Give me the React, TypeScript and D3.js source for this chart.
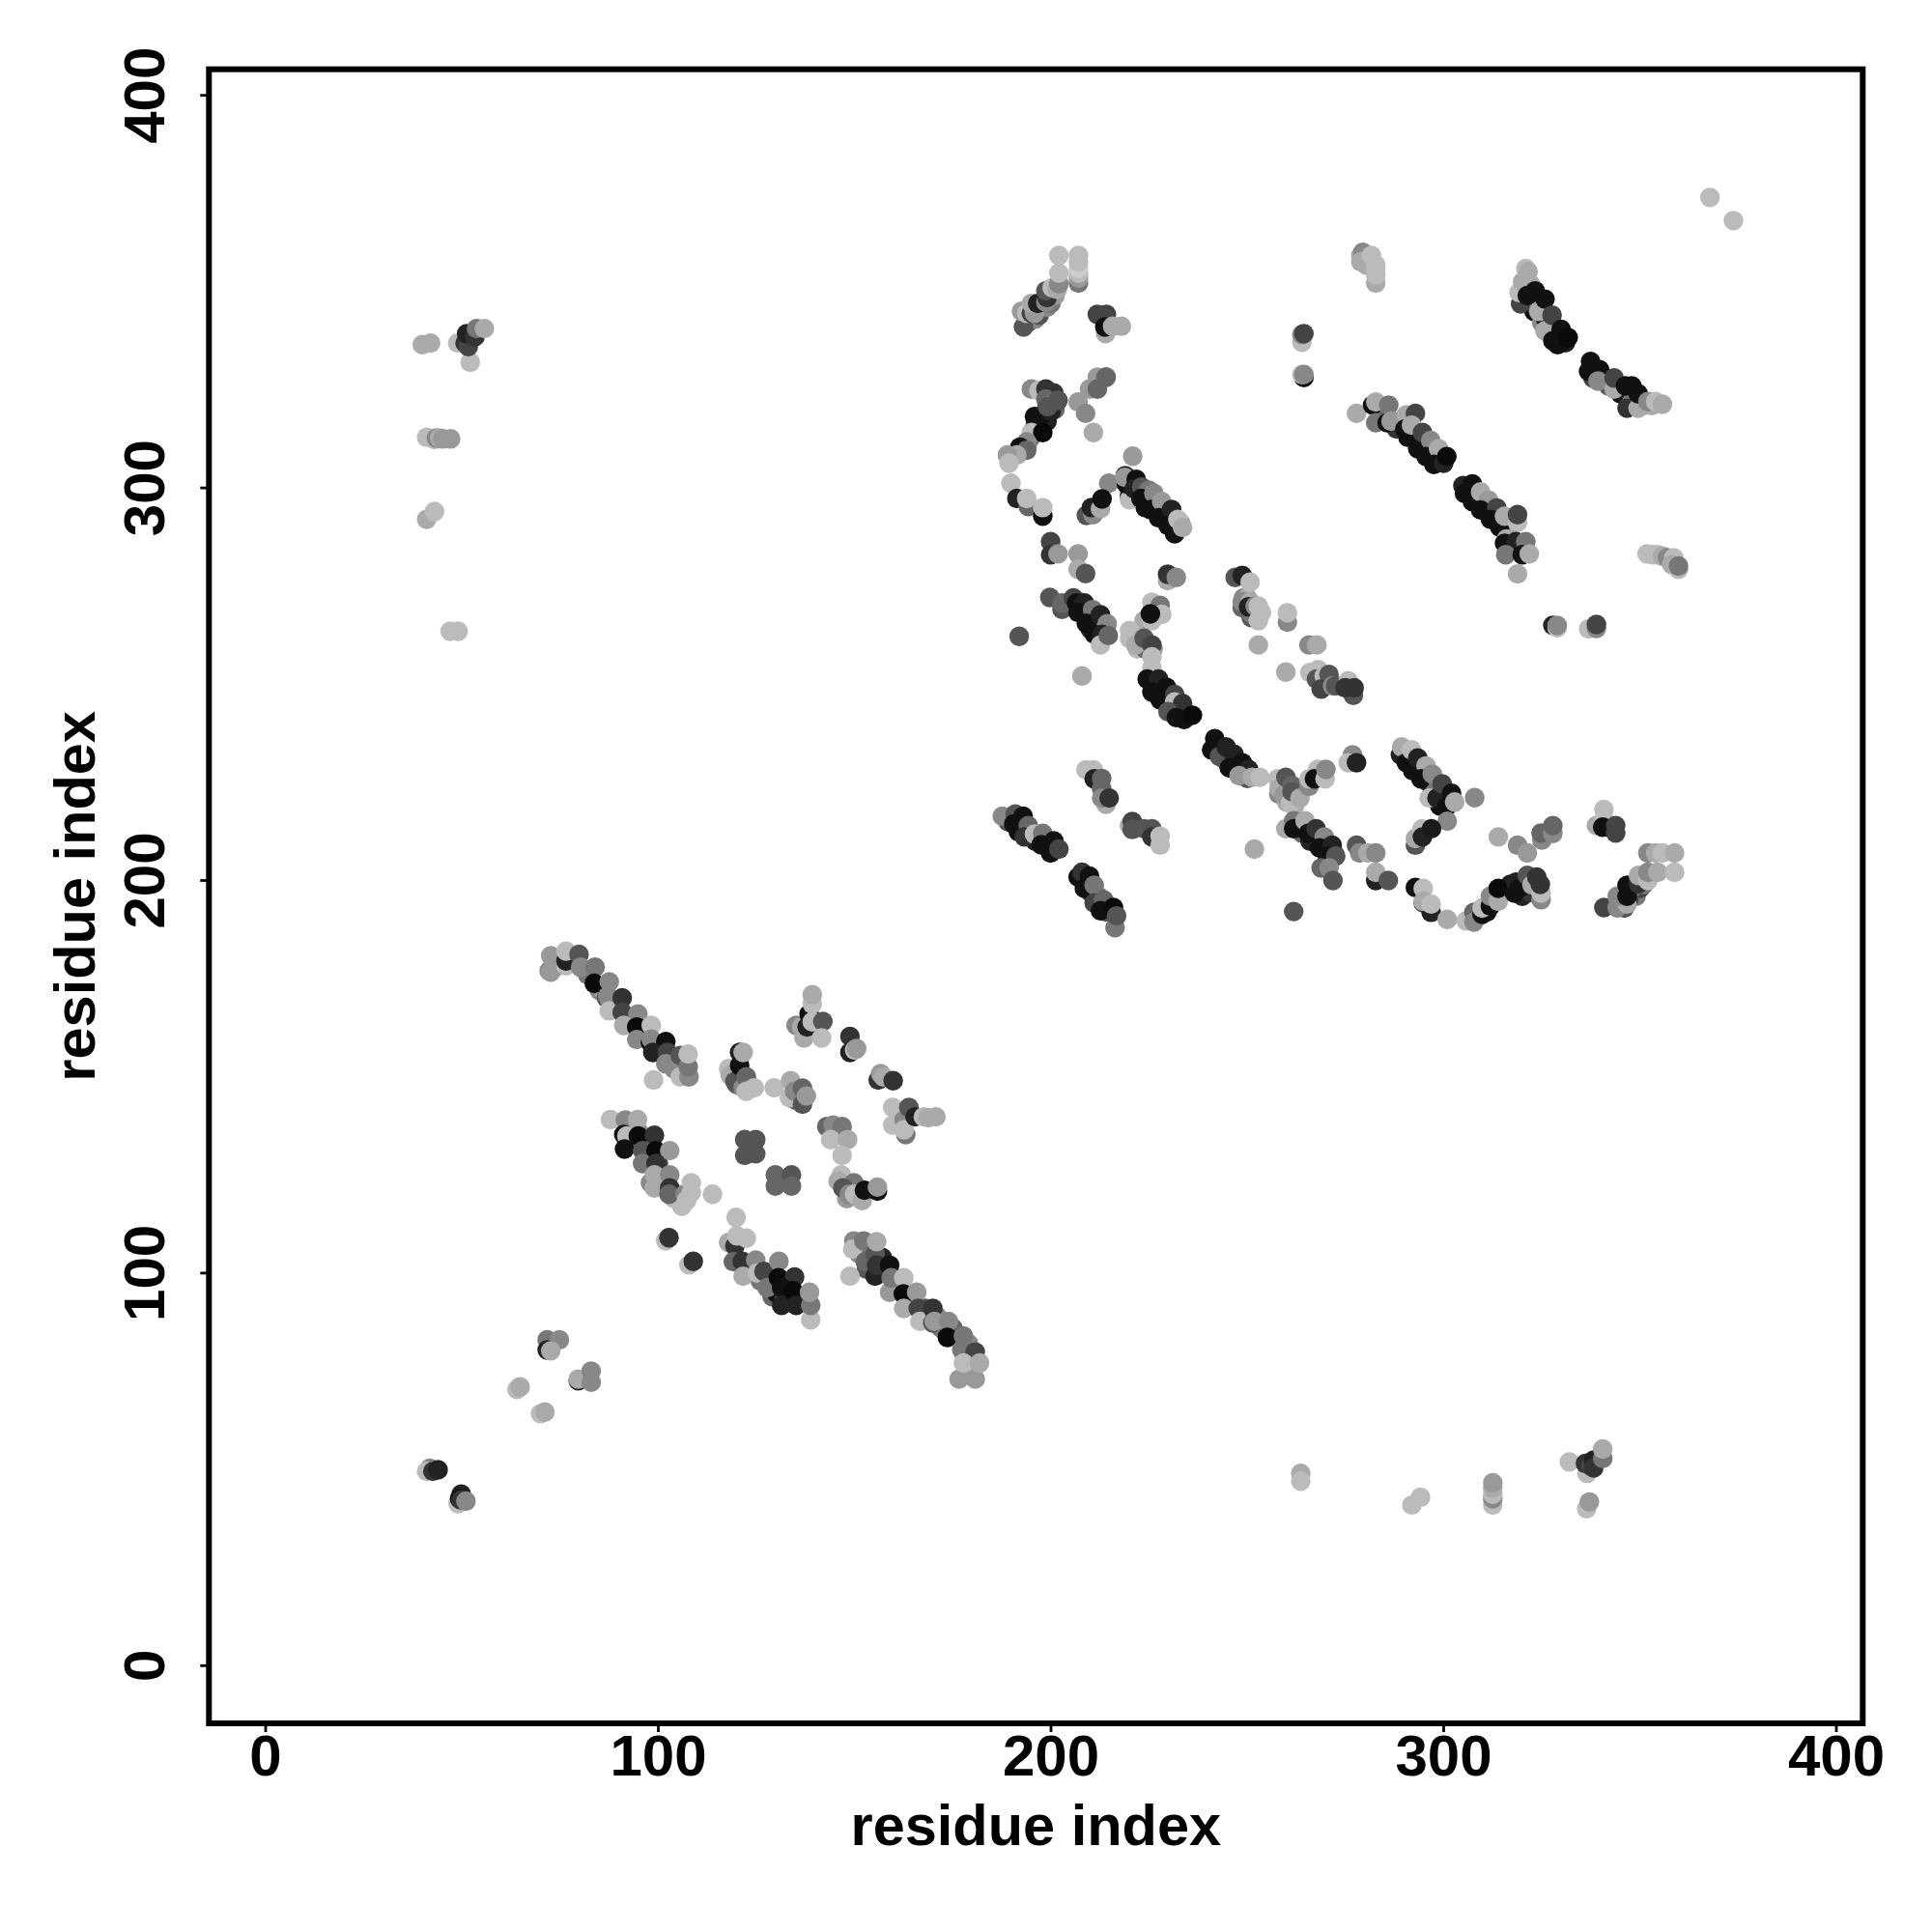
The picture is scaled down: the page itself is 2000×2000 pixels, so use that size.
import React from "react";
import * as d3 from "d3";

// [residue x, residue y, grey level]
type P = [number, number, number];

const xTicks = [0, 100, 200, 300, 400];
const yTicks = [0, 100, 200, 300, 400];
const axisLabel = "residue index";

const underLeft: P[] = [
  [74,178,170],[78,180,119],[82,176,119],[85,172,136],[86,172,153],[89,168,136],[92,165,119],[93,164,153],[96,161,85],[97,161,136],[100,157,68],[101,156,136],[104,152,136],[104,154,102],[106,153,136],
  [93,133,119],[95,133,136],[95,136,136],[97,129,102],[100,128,68],[98,123,136],[101,123,102],[100,124,187],[104,119,187],[105,120,170],[106,117,187],
  [122,101,136],[124,100,102],[126,98,119],[128,98,68],[129,94,102],[130,95,17],[132,93,85],[133,97,17],[136,93,68],[137,93,136],
  [151,105,136],[153,101,85],[154,106,119],[157,100,68],[157,104,34],[160,96,136],[161,96,153],[164,93,102],[168,89,119],[168,91,85],[171,89,136],[172,86,119],[175,86,102],[179,82,136],[179,75,153],[178,79,119],
  [119,150,153],[120,148,102],[123,148,119],[135,144,102],[144,136,119],[145,136,153],[147,122,102],[148,119,153],[150,122,51],
];
const underCentre: P[] = [
  [194,342,102],[196,343,136],[197,344,85],[199,346,136],[200,347,119],[201,349,153],[192,309,136],[194,311,153],[195,313,119],[196,316,34],[197,316,17],[199,317,34],[199,321,51],[201,320,102],
  [220,300,85],[222,299,119],[220,298,34],[224,297,51],[224,295,17],[226,296,102],[228,293,136],[228,294,85],[230,291,119],[232,290,119],[231,292,51],[233,291,153],
  [207,271,85],[208,268,85],[210,267,102],[210,264,51],[212,264,136],[213,264,170],[214,263,136],[221,262,170],[222,259,187],[224,259,102],[226,259,153],
  [226,249,85],[228,248,119],[229,247,51],[230,246,153],[232,243,119],[233,243,34],[235,242,17],[243,234,102],[244,231,34],[245,230,136],[247,230,17],[249,227,119],[250,226,85],[258,222,136],[260,220,170],[262,219,170],[263,222,119],
  [263,214,119],[264,212,102],[266,210,34],[268,211,102],[269,209,34],[270,208,119],[272,207,51],
  [189,215,85],[192,214,34],[193,213,85],[195,212,85],[196,210,34],[198,210,85],[199,209,51],[208,200,68],[209,199,102],[210,197,85],[211,196,17],[212,196,119],[213,193,51],[214,192,85],
];
const underRight: P[] = [
  [284,318,102],[288,315,51],[289,317,136],[291,314,68],[292,313,119],[293,312,68],[294,311,136],[295,310,85],[296,308,85],[297,308,119],[299,307,68],[249,272,136],[250,272,170],[251,267,85],[251,268,119],
  [306,299,51],[307,298,85],[308,297,68],[310,296,85],[310,297,136],[312,295,102],[313,293,68],[314,292,119],[316,291,34],[317,290,153],
  [322,352,170],[322,347,17],[323,347,51],[323,345,17],[324,346,102],[325,342,136],[326,343,17],[327,341,85],[328,339,17],[329,338,102],[329,336.5,17],[331,337,34],
  [338,331,85],[338,328,68],[340,328,34],[341,328,119],[342,326,85],[344,326,68],[345,324,17],[347,324,51],[347,322,34],[348,322,119],[350,322,68],[351,321,170],[353,321,170],
  [291,232,68],[291,230,102],[293,229,68],[294,228,85],[296,225,85],[297,224,34],[298,224,119],[300,222,68],[299,219,17],[301,221,51],
  [309,191,136],[310,193,68],[311,192,17],[312,194,102],[313,196,136],[317,199,34],[320,199,68],[320,196,34],[322,197,51],
  [345,195,102],[346,193,85],[348,197,136],[349,196,119],[350,198,68],[351,199,119],[347,195,51],[348,198,102],
];

const farLeft: P[] = [
  [39.9,336.5,170],[42,336.9,170],[48.9,336.9,187],[52.1,332,187],[50.8,336.9,51],[51.6,336,68],[51.2,339.3,34],[53.3,338.5,51],[53.7,340.6,119],[55.7,340.6,170],
  [41,312.9,187],[43,312.3,187],[43.5,312.7,136],[44.3,312.7,170],[45.1,312.5,153],[47.1,312.5,153],
  [41,292,170],[43,294,187],[47,263.5,187],[49,263.5,187],
];
const bottomLeft: P[] = [
  [41.8,50.3,136],[41,49.5,187],[42.6,49.5,51],[43.9,49.9,34],
  [49.8,43.7,34],[49,41.3,187],[49.4,42.5,17],[49.8,42.2,51],[51,41.9,136],
  [64,70.4,187],[64.8,71,170],[70,64.2,187],[71.1,64.6,170],
  [71.7,83,119],[74.8,83,136],[71.7,80.4,34],[72.6,80.2,170],
  [79.6,72.6,34],[79.6,73,170],[82.9,75,136],[82.9,72.2,136],
];
const bottomRight: P[] = [
  [263.6,49,170],[263.6,47,187],[291.9,40.9,187],[294.1,42.9,187],
  [312.5,40.9,187],[312.5,42.5,136],[312.5,43.7,187],[312.5,45.3,170],[312.5,46.6,153],
  [332,51.9,187],[336.5,49,187],[336.1,51.5,51],[337.5,50.9,68],[338.2,52.4,34],[338.2,50.4,51],[340.5,52.8,119],[340.5,55.2,170],
  [336.4,40,187],[337.1,41.7,153],
];
const chainUpperLeft: P[] = [
  [72.2,177,136],[72.6,176.7,153],[72.6,180.8,153],[76.5,178.3,187],[76.5,179.5,34],[76.5,182,187],[79.8,181.2,85],[80.2,177.9,136],[83.9,177.9,119],
  [83.7,173.8,10],[87.5,174.2,136],[86.8,170.1,85],[87.1,170.5,136],[87.5,166.8,187],[90.8,170.1,51],[90.8,166.4,68],[94.8,166,136],[91.2,163.1,170],[94.5,162.7,10],[98.2,163.1,187],
  [94.5,159.5,136],[98,158.7,17],[98.2,159.6,136],[101.9,159,17],[98.6,156.2,34],[102.3,156.2,68],[101.9,153.3,136],[105.6,155.4,85],[105.6,150,187],[107.8,150,136],[107.6,152.5,119],[107.6,155.8,187],[98.8,149.2,187],
];
const clusterTopMid: P[] = [
  [135.1,163.1,136],[136.5,162.7,170],[137.1,159.9,170],[138.4,166,17],[137.9,162.7,34],[139.2,164,187],[139.2,168.5,187],[139.2,170.9,170],[141.9,164.1,85],[141.6,159.9,187],
  [148.8,160.3,51],[148.8,156.2,34],[150,156.8,187],[150.5,157.2,153],[156,149.2,51],[156.6,150.8,153],[157.3,150,170],[159.8,149,51],
  [117.9,152.1,187],[118.3,150.4,170],[119.5,148.8,85],[120.7,156.2,34],[120.7,152.9,17],[121.6,156.2,170],[121.6,147.2,136],[122.4,150,102],[122.4,146.3,187],[124.4,147.2,187],
  [129.5,147.2,187],[133.7,149,170],[133.4,144.7,187],[134.7,146.3,136],[136.7,147.1,102],[136.7,143,85],[137.7,145.1,153],
  [142.9,137.3,102],[144.5,137.7,136],[146.8,137.3,119],[143.9,134,187],[148.2,134,170],[146.8,130,187],
  [159.7,142.2,187],[159.7,137.7,187],[162.6,139,136],[163,135.3,119],[162.6,136.5,187],[163.8,142.2,85],[165.4,139.8,34],[167.5,139.8,187],[168.7,139.6,170],[170.7,139.8,170],
];
const clusterMidLeft: P[] = [
  [87.8,139.1,187],[91.6,139,136],[94.7,139.1,170],[91.2,135.3,17],[92,134.9,187],[91.4,131.6,17],[94.9,134.9,10],[99,135.1,51],[96,131.2,85],[99.4,131.2,10],[102.9,131.2,153],
  [96,127.9,119],[99.4,127.9,51],[99,125,170],[102.9,125,136],[99,121.7,170],[102.9,121.7,51],[102.7,120.1,102],
  [106.8,120.1,136],[107.2,118.5,187],[108.4,120.5,187],[108.4,123,187],[113.8,120.1,187],
  [122,134,85],[124.8,134,85],[122,130,85],[124.8,130.4,85],
  [129.8,125,102],[133.9,125,85],[129.8,122.2,102],[133.9,122.2,102],
  [146.6,125,187],[145.8,123.4,170],[149.8,123,119],[147,121.7,85],[148.6,120.1,136],[150,120.1,187],[151.9,118.5,170],[152.5,121.1,17],[155.8,120.9,17],[155.8,121.9,153],
];
const chainLowerMid: P[] = [
  [102.7,109,187],[101.9,108.2,187],[102.7,109,51],[107.8,102.1,187],[108.9,103,51],
  [119.8,114.2,187],[117.9,107.8,170],[119.5,106.9,51],[120,109.5,187],[122.4,108.9,187],
  [119.1,102.9,102],[121.4,103,51],[124.8,103.3,136],[121.6,99.2,170],[125.2,100,187],[126.9,100.4,68],[130.7,103,136],[127.7,96.3,119],[130.6,98.8,10],[134.7,99,51],
  [131.4,96.3,17],[131.4,91.8,34],[134.3,95.5,10],[135.1,91.8,34],[138.8,88.1,187],[138.8,91.8,119],[138.5,95.1,153],
];
const chainLowerRight: P[] = [
  [148.8,99.2,187],[149.8,108.2,136],[149.5,106.1,187],[152.3,108.2,119],[152.7,102.9,102],[155.2,99.2,34],[155.2,104.9,85],[155.6,102,51],[155.6,108,170],[158.9,102,17],[158.9,95.1,153],[159.3,98.8,119],
  [162.5,98.8,187],[162.4,94.7,10],[165.8,95.1,153],[162.5,91,170],[166.2,91,68],[166.6,87.7,187],[169.9,91,51],[169.9,87.3,85],[170.3,87.7,153],[173.9,87.7,136],[173.6,83.6,10],[177.7,84,119],[177.3,80.4,119],[180.7,79.9,68],
  [176.6,73,153],[180.7,73,153],[177.7,77.1,187],[181.8,77.1,170],
];
const clusterTopLeft: P[] = [
  [193,341,85],[192.5,345,153],[193.8,344.5,187],[195,344.5,68],[195.8,344.5,153],[195,347,170],[196.6,347,34],[198.7,347.3,136],[199,348.5,51],[198.7,350.2,85],[200.3,351,187],[201.6,350.6,170],[202,352,136],[202,354.7,187],[202,359.2,187],
  [207,352.2,119],[207,353.5,153],[207,354.7,187],[207,356,204],[207,357.6,187],[207,359.2,187],
  [211.8,344.2,68],[214.1,344.2,68],[213.9,339.3,170],[213.7,341,17],[215.7,341.2,170],[217.9,341.2,170],
  [195,325.2,136],[196.9,324.8,187],[198.7,325.2,51],[200.7,324.2,51],[198.7,322.7,102],[199.9,321,136],[195.8,318.2,17],[197.9,318.6,17],[200,319.5,34],[199.1,320.7,85],[201.8,322.3,85],
  [195,314.1,187],[197.9,314.1,10],[193.8,311.7,136],[192.1,310.4,17],[193.8,309.6,102],[191.3,308.4,170],[188.9,308.4,153],[189.3,306.3,187],[189.8,301.2,187],
  [191.3,297.3,34],[194.2,295.3,102],[193.8,297.3,187],[197.9,292.8,17],[197.9,295,187],
  [214,328.2,102],[211.8,328.2,153],[214,328.2,102],[209.8,325.2,153],[211.8,325.2,102],[206.9,321.9,153],[208.8,319,136],[210.8,314.1,170],
];
const chainCentral: P[] = [
  [220.8,308.1,153],[214.7,301.2,136],[209,293,85],[210.7,293.2,136],[210.3,295,34],[212.6,294.7,170],[213,297.2,17],
  [220,297,187],[218.9,303.1,34],[219.2,301,17],[218.8,302.7,153],[221.7,302.2,17],[221.2,299.8,34],[223.1,300.2,85],[224.9,299.4,119],[222.9,297.3,17],[226.2,298.6,136],[225.3,294.5,17],[228.2,296.5,153],[227.4,292.4,17],[230.7,294.5,34],[229.8,290.4,17],[231.5,288.3,17],[232.3,292,187],[233.5,289.9,170],
  [199.9,286.3,68],[199.9,283,51],[201.8,283.2,153],[206.9,283.2,153],[206.9,279.3,170],[208.8,278.2,85],
  [229.7,276.4,170],[229.7,278,51],[231.9,277.2,136],
  [199.7,272.1,85],[202.8,269.1,85],[202.8,270.7,102],[205.7,272,68],[206.5,270.7,17],[208.5,270.7,34],[206.9,268.3,17],[210.6,269,119],[209,265.5,17],[212.6,267.7,34],[211,262.8,17],[214.3,265.4,136],[213,262.7,34],[212.6,260,187],[214.6,262.4,102],
  [191.9,262.2,85],[207.9,252.1,170],
  [225.7,270.9,187],[227.8,270.1,119],[223.7,266.2,170],[225.7,266.2,187],[228.2,267.8,187],[225.3,267.9,17],
  [220,263.7,187],[220,261.6,187],[221.6,260,170],[223.7,261.7,85],[225.7,260,68],[225.7,257,187],
];
const chainA: P[] = [
  [225.7,254.2,187],[224.5,251.3,17],[227.4,251.3,34],[229.4,249.2,17],[225.7,248,17],[227.8,246,17],[231.5,247.4,68],[231.5,245.5,187],[233.5,245.1,51],[229.8,243,85],[231.9,241.5,17],[233.9,241,17],[236,242.1,10],
  [241.7,236.1,17],[240.9,233.3,17],[242.9,231.6,85],[244.6,234,34],[246.6,232.2,34],[245.4,228.7,17],[248.7,230,17],[250.3,228.3,34],[247.9,226.7,153],[251.2,226.3,170],[253.2,226.3,187],
  [257.7,225.9,187],[258.1,223.4,170],[259.3,221.8,153],[261,219.7,187],[259.8,226.3,85],[261.4,224.2,102],[261.4,222.6,85],[263.4,221,170],
  [265.7,224,136],[265.7,225.9,187],[267.9,228.3,187],[267.1,225.9,17],[269.8,225.9,187],[270,228.3,136],
  [276.8,232,136],[275.7,230,187],[277.8,230,34],
];
const chainB: P[] = [
  [259.8,213.2,170],[261.8,215.2,119],[261.8,213.2,17],[264.7,215.2,170],[265.5,212,17],[267.5,213.2,51],[269.6,211.1,136],[268.4,208.3,17],[271.6,209,34],[270.4,206.2,17],[272.5,206.2,85],
  [268.8,203.2,102],[270.8,203.2,136],[271.8,200,85],[261.8,192.1,85],[251.8,208,170],
  [277.8,209,85],[278.6,207,136],[280.7,207,170],[282.7,207,136],[282.7,200,34],[282.7,202.1,170],[285.9,200,85],
];
const chainLowerLeft: P[] = [
  [187.6,216.4,136],[190.9,216.9,85],[192.9,216.4,17],[190.5,214.4,17],[191.7,212.4,17],[194.2,214,102],[193.2,211.1,51],[195.8,211.8,187],[197.9,212,119],[197.5,209.1,17],[200.7,210.1,17],[199.9,207,17],[202,208,68],
  [206.9,200.9,17],[207.9,202.1,51],[209.8,201.1,17],[208.5,198,17],[211,198.8,119],[211,194.3,68],[213.4,195.1,102],[212.6,192.3,17],[215.9,193.1,10],[216.3,188,119],[216.7,191,85],
  [208.9,228.2,187],[210.8,228.2,187],[211,225.9,34],[212.9,226,102],[212.9,223.4,102],[214,219.4,170],[212.9,221,136],[214.8,221,51],
  [220,214,170],[220.7,215,68],[220.7,213,85],[223.7,213.2,85],[225.7,213.2,85],[225.7,211.1,51],[227.8,209,187],[227.8,211.3,187],
];
const clusterUpperMid: P[] = [
  [264.4,328.1,17],[263.9,328.9,187],[264.4,328.9,136],[263.9,337.1,187],[263.9,339.1,136],[264.4,339.3,68],
  [278.9,359.2,170],[279.4,360,136],[278.9,357.6,170],[280.3,356.8,170],[282.7,352.2,170],[282.7,354.3,187],[282.7,355.5,187],[282.7,356.8,187],[281.6,359.2,187],
  [246.9,277.2,85],[248.7,277.7,34],[250.7,276,187],[248.7,269.5,102],[248.7,271,136],[250.7,271,170],[250.3,269.7,34],[252,269.9,136],[252.8,266.2,187],[252.8,269.9,187],[253.6,268.2,187],
  [260.2,265.8,136],[260.2,268.2,187],[252.8,260,170],[265.7,260,136],[267.7,260,170],[259.8,253.1,170],
  [265.9,253,187],[268,253.7,187],[267.6,251.3,85],[269.6,252.1,187],[270.8,252.5,85],[268.8,248.8,68],[271.7,249.6,136],[272.5,249.6,85],[275.7,250.9,187],[277,247.2,85],[274.9,249.1,51],[277.2,249.1,51],
  [277.8,319,170],[281.9,321.1,17],[282.7,321.9,170],[282.7,316.6,119],[285.6,316.6,17],[286,321.1,119],[286.6,317,153],
  [290.5,318.6,170],[292.8,319,68],[290.1,315,17],[290.9,312.9,17],[291.8,316,170],[293.4,310,17],[294.6,314.1,68],[296.7,312.1,136],[295.5,308,17],[298.7,310,170],[297.5,306,17],[300,306.3,34],[300.8,308,10],
];
const chainUpperRight: P[] = [
  [304.9,300.6,34],[307.3,301,17],[305.3,298.6,17],[307.3,296.5,17],[309.4,299,170],[311.4,296.9,153],[309.4,294.4,17],[313.5,294.9,68],[311.9,292,17],[314.3,290,17],[315.5,292.8,170],[318.8,291.2,187],[318.8,293.2,68],
  [316,287,170],[315.5,285.9,17],[318.4,286.3,34],[320.9,286.3,119],[315.8,283,119],[320,283,17],[321.8,283.2,170],[318.8,278.1,170],
  [319.6,346.9,68],[319.2,349.8,187],[320.1,352.5,170],[320.9,355.9,187],[321.5,355.1,170],[321.3,349,17],[323.3,350.2,17],[324.2,345,170],[325.8,348.1,17],[325.8,340,170],[327.6,344,68],[327.8,337.5,17],[329.9,340.4,17],[330,337.1,17],[331.7,338.3,10],
  [336.9,329.7,17],[337.4,332.2,17],[339.7,330.1,17],[339.3,327.2,136],[343.4,325.2,170],[343.4,328,68],[346.7,320.3,51],[346.3,326,17],[347.9,326,17],[349.5,320.3,170],[349.5,324,17],[352,322,136],[354,322,187],[355.7,321.3,170],
  [367.8,374,187],[373.8,368.1,187],
  [351.8,283.2,187],[353.2,283,187],[354.5,283,187],[355.7,282.6,170],[357,282.2,136],[358.6,282.2,187],[358.1,280.5,170],[359.8,279.3,187],[359.8,280.1,119],
  [327.8,265,34],[328.9,264.4,187],[328.9,265,136],[336.9,264.1,187],[338.9,264.2,136],[338.9,265.2,68],
];
const chainLowerFar: P[] = [
  [289,232,34],[289.3,234,170],[290.5,230,17],[291.8,233.3,187],[292.1,228,17],[293.4,231.2,34],[295.5,229.2,170],[294.2,225.9,17],[297.1,227.1,136],[296.3,221,187],[298.3,221,34],[299.6,224.6,68],[302,222.2,17],[300.8,218.9,17],[302.8,220,170],[307.9,221.1,136],[300.9,215.1,136],
  [292.8,209,85],[292.8,210.7,170],[294.5,213.2,187],[294.6,211.1,34],[296.9,213.2,26],
  [292.8,198.2,17],[294.8,194.3,85],[294.8,198,187],[296.8,191.9,34],[294.8,194.7,170],[296.8,194,187],[300.9,190.1,170],
  [305.7,189.7,187],[307.7,191.9,102],[307.7,189.4,136],[309.8,191.4,17],[309.8,193,187],[311.9,193.5,17],[311.9,196,136],[313.9,194.7,170],[313.9,198,10],
  [318,196.8,17],[318.4,199.6,34],[319.2,198,17],[321.3,201.3,85],[322.5,198.9,170],[324.8,195.1,136],[324.8,196.8,187],[323.7,200.9,51],[324.6,199,51],
  [313.9,211.1,170],[318.8,209,136],[321.3,207,153],[325,210.3,136],[324.8,212.1,102],[327.8,212,136],[327.8,214,102],
  [338.9,214,170],[340.8,218.1,187],[340.8,215.6,187],[340.5,213.6,17],[343.8,214,68],[343.8,212.1,68],
  [340.8,193.1,68],[344.2,193.1,85],[344.2,193.1,136],[346.7,194,170],[344.2,196,136],[346.7,196,17],[346.7,198.8,17],[349.6,199.2,51],[349.6,201.3,170],[352,200,187],[352,202.1,136],[354.5,202.1,170],[358.8,202.1,187],
  [352,207,136],[354,207,170],[355.7,207,187],[358.8,207,170],
];

const contactSets: P[][] = [
  underLeft, underCentre, underRight,
  farLeft, bottomLeft, bottomRight, chainUpperLeft, clusterTopMid, clusterMidLeft, chainLowerMid, chainLowerRight,
  clusterTopLeft, chainCentral, chainA, chainB, chainLowerLeft, clusterUpperMid, chainUpperRight, chainLowerFar,
];

const FONT = "'Liberation Sans', Arial, Helvetica, sans-serif";

export default function App() {
  const x = d3.scaleLinear().domain([0, 400]).range([275, 1901]);
  const y = d3.scaleLinear().domain([0, 400]).range([1724.3, 98.7]);
  const left = 216.3, right = 1928.3, top = 71.7, bottom = 1784;
  return (
    <svg width={2000} height={2000} viewBox="0 0 2000 2000" style={{ position: "absolute", left: 0, top: 0, background: "#fff" }}>
      {contactSets.map((set, i) => (
        <g key={i}>
          {set.map((p, j) => (
            <circle key={j} cx={x(p[0])} cy={y(p[1])} r={10.2} fill={d3.rgb(p[2], p[2], p[2]).formatHex()} />
          ))}
        </g>
      ))}
      <rect x={left} y={top} width={right - left} height={bottom - top} fill="none" stroke="#000" strokeWidth={6} />
      {xTicks.map((t) => (
        <g key={t}>
          <line x1={x(t)} x2={x(t)} y1={bottom} y2={bottom + 9} stroke="#000" strokeWidth={2.8} />
          <text x={x(t)} y={1838} textAnchor="middle" fontFamily={FONT} fontWeight="bold" fontSize={60}>{t}</text>
        </g>
      ))}
      {yTicks.map((t) => (
        <g key={t}>
          <line x1={left - 9} x2={left} y1={y(t)} y2={y(t)} stroke="#000" strokeWidth={2.8} />
          <text transform={`translate(170,${y(t)}) rotate(-90)`} textAnchor="middle" fontFamily={FONT} fontWeight="bold" fontSize={60}>{t}</text>
        </g>
      ))}
      <text x={(left + right) / 2} y={1910} textAnchor="middle" fontFamily={FONT} fontWeight="bold" fontSize={59.5}>{axisLabel}</text>
      <text transform={`translate(98,${(top + bottom) / 2}) rotate(-90)`} textAnchor="middle" fontFamily={FONT} fontWeight="bold" fontSize={59.5}>{axisLabel}</text>
    </svg>
  );
}
